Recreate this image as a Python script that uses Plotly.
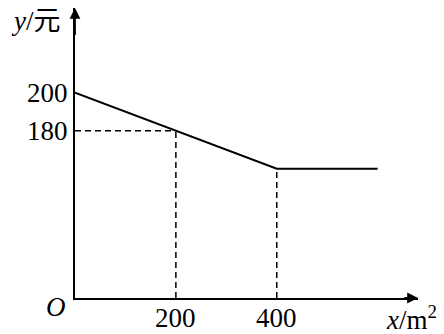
import plotly.graph_objects as go

# data
line_x = [0, 200, 400, 600]
line_y = [200, 180, 160, 160]
guide_x = [200, 400]
guide_y = [180, 160]
x_ticks = [200, 400]
y_ticks = [180, 200]
x_tick_text = ["200", "400"]
y_tick_text = ["180", "200"]

y_base = 92
x_max = 680
y_max = 244.6

FONT = "Liberation Serif, Times New Roman, Noto Sans CJK SC, serif"
FS = 27

W, H = 444, 334
ml, mr, mt, mb = 75, 26, 8, 36
pw, ph = W - ml - mr, H - mt - mb


def px(xp, yp):
    return (xp - ml) / pw, 1 - (yp - mt) / ph


fig = go.Figure()

dash = dict(color="black", width=1.5, dash="6px,4px")
for gx, gy in zip(guide_x, guide_y):
    fig.add_trace(go.Scatter(x=[gx, gx], y=[y_base, gy], mode="lines", line=dash,
                             hoverinfo="skip", showlegend=False))
fig.add_trace(go.Scatter(x=[0, guide_x[0]], y=[guide_y[0]] * 2, mode="lines", line=dash,
                         hoverinfo="skip", showlegend=False))

fig.add_trace(go.Scatter(x=line_x, y=line_y, mode="lines",
                         line=dict(color="black", width=2),
                         hoverinfo="skip", showlegend=False))

# arrowheads
fig.add_annotation(x=x_max, y=y_base, ax=x_max - 30, ay=y_base, xref="x", yref="y",
                   axref="x", ayref="y", text="", showarrow=True, arrowhead=2,
                   arrowsize=1.2, arrowwidth=1.8, arrowcolor="black")
fig.add_annotation(x=0, y=y_max, ax=0, ay=y_max - 15, xref="x", yref="y",
                   axref="x", ayref="y", text="", showarrow=True, arrowhead=2,
                   arrowsize=1.2, arrowwidth=1.8, arrowcolor="black")

# x tick labels (placed at data x through the x axis)
_, ty = px(0, 318)
for tv, tt in zip(x_ticks, x_tick_text):
    fig.add_annotation(text=tt, x=tv, y=ty, xref="x", yref="paper", showarrow=False,
                       xanchor="center", yanchor="middle", borderpad=0,
                       font=dict(family=FONT, size=FS, color="black"))

# labels
for txt, (xp, yp) in [("<i>O</i>", (56, 307)),
                      ("<i>y</i>/元", (36, 21)),
                      ("<i>x</i>/m<sup>2</sup>", (411, 318))]:
    x, y = px(xp, yp)
    fig.add_annotation(text=txt, x=x, y=y, xref="paper", yref="paper",
                       xanchor="center", yanchor="middle", borderpad=0,
                       showarrow=False, font=dict(family=FONT, size=FS, color="black"))

fig.update_layout(
    width=W, height=H,
    margin=dict(l=ml, r=mr, t=mt, b=mb, autoexpand=False),
    paper_bgcolor="white", plot_bgcolor="white",
    xaxis=dict(range=[0, x_max], showgrid=False, zeroline=False, showline=True,
               linecolor="black", linewidth=2, tickvals=x_ticks, showticklabels=False,
               ticks="", automargin=False),
    yaxis=dict(range=[y_base, y_max], showgrid=False, zeroline=False, showline=True,
               linecolor="black", linewidth=2, tickvals=y_ticks, ticktext=y_tick_text,
               ticks="", automargin=False, ticklabelstandoff=0,
               tickfont=dict(family=FONT, size=FS, color="black")),
)

fig.write_html("out.html")
